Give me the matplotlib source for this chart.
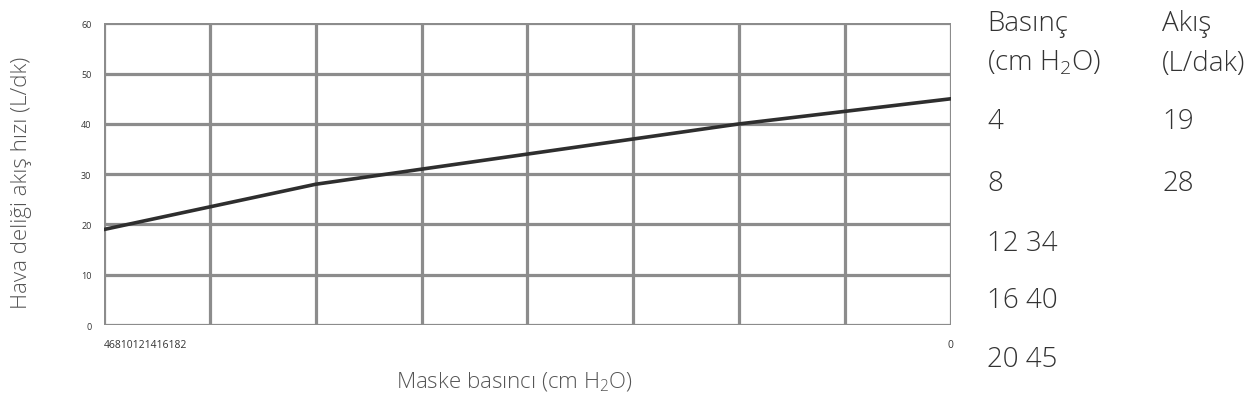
import matplotlib
matplotlib.use('Agg')
import matplotlib.pyplot as plt

# Maske basıncı (cm H2O) ve hava deliği akış hızı (L/dk)
basinc = [4, 8, 12, 16, 20]
akis = [19, 28, 34, 40, 45]
x_grid = [4, 6, 8, 10, 12, 14, 16, 18, 20]
y_ticks = [0, 10, 20, 30, 40, 50, 60]
x_tick_pos = [4, 20]
x_tick_labels = ['46810121416182', '0']

plt.rcParams['font.family'] = ['Open Sans', 'DejaVu Sans']
plt.rcParams['font.weight'] = 'light'
plt.rcParams['mathtext.fontset'] = 'custom'
plt.rcParams['mathtext.rm'] = 'Open Sans:light'
plt.rcParams['mathtext.it'] = 'Open Sans:light'

fig = plt.figure(figsize=(12.51, 4.06), dpi=100)
ax = fig.add_axes([0.0831, 0.197, 0.677, 0.743])

grid_c = '#8c8c8c'
for gx in x_grid:
    ax.axvline(gx, color=grid_c, lw=2.3, zorder=1)
for gy in y_ticks:
    ax.axhline(gy, color=grid_c, lw=2.3, zorder=1)

ax.plot(basinc, akis, color='#2e2e2e', lw=2.6, zorder=3)

ax.set_xlim(4, 20)
ax.set_ylim(0, 60)
for s in ax.spines.values():
    s.set_visible(False)

ax.set_yticks(y_ticks)
ax.set_yticklabels([str(v) for v in y_ticks], fontsize=6.5, color='#333333',
                   fontweight='normal')
ax.set_xticks(x_tick_pos)
ax.set_xticklabels(x_tick_labels, fontsize=7.5, color='#333333',
                   fontweight='normal')
ax.get_xticklabels()[0].set_horizontalalignment('left')
ax.get_xticklabels()[0].set_x(3.9)
ax.tick_params(axis='y', length=0, pad=9)
ax.tick_params(axis='x', length=0, pad=10)

fig.text(22 / 1251, 0.55, 'Hava deliği akış hızı (L/dk)', fontsize=16,
         color='#555555', rotation=90, ha='center', va='center')
fig.text(514 / 1251, 0.057, 'Maske basıncı (cm H$_2$O)', fontsize=16,
         color='#555555', ha='center', va='center')

# tablo
tc = '#333333'
fs = 20
col1, col2 = 0.789, 0.929
fig.text(col1, 0.940, 'Basınç', fontsize=fs, color=tc, va='center')
fig.text(col1, 0.843, '(cm H$_2$O)', fontsize=fs, color=tc, va='center')
fig.text(col2, 0.940, 'Akış', fontsize=fs, color=tc, va='center')
fig.text(col2, 0.843, '(L/dak)', fontsize=fs, color=tc, va='center')
row_y = [0.700, 0.548, 0.400, 0.258, 0.113]
for i, (p, a) in enumerate(zip(basinc, akis)):
    if i < 2:
        fig.text(col1, row_y[i], str(p), fontsize=fs, color=tc, va='center')
        fig.text(col2, row_y[i], str(a), fontsize=fs, color=tc, va='center')
    else:
        fig.text(col1, row_y[i], f'{p} {a}', fontsize=fs, color=tc, va='center')

fig.savefig('out.png', dpi=100)
